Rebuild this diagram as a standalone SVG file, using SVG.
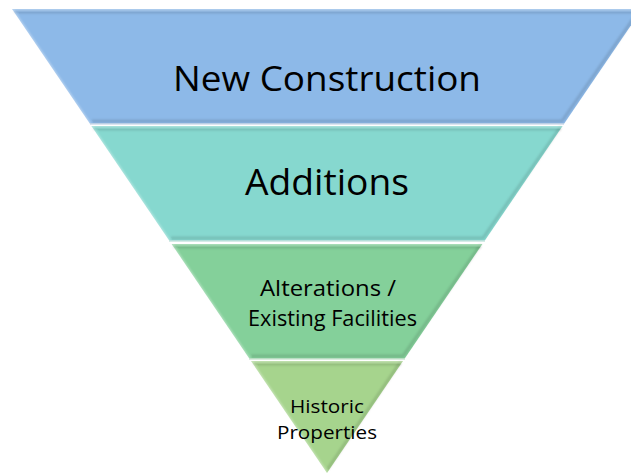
<svg xmlns="http://www.w3.org/2000/svg" width="631" height="474" viewBox="0 0 631 474">
<style>
.t{font-family:"Open Sans","Liberation Sans",sans-serif;fill:#000;text-anchor:middle}
.hl{fill:none;stroke:#ffffff;stroke-opacity:0.45;stroke-width:2}
.sh{fill:none;stroke:#000000;stroke-opacity:0.12;stroke-width:3}
</style>
<defs>
<filter id="soft" x="-5%" y="-5%" width="110%" height="110%"><feGaussianBlur stdDeviation="0.8"/></filter>
</defs>
<rect width="631" height="474" fill="#ffffff"/>
<g id="band1">
<polygon points="12,9 642,9 563.9,124 90.1,124" fill="#8DB9E8"/>
<g filter="url(#soft)">
<polyline class="sh" points="14,12 640,12"/>
<polyline class="sh" points="92,121 562,121 640,9"/>
<polyline class="hl" points="90.1,124 12,9 642,9"/>
</g>
<line x1="90" y1="124" x2="564" y2="124" stroke="#C9D6E6" stroke-width="1.5"/>
<text class="t" x="327" y="91" font-size="35" textLength="308" lengthAdjust="spacingAndGlyphs">New Construction</text>
</g>
<g id="band2">
<polygon points="91.4,126 562.6,126 484.5,241 169.5,241" fill="#86D8CF"/>
<g filter="url(#soft)">
<polyline class="sh" points="93,129 561,129"/>
<polyline class="sh" points="171,238 483,238 561,126"/>
<polyline class="hl" points="169.5,241 91.4,126 562.6,126"/>
</g>
<line x1="169" y1="241" x2="485" y2="241" stroke="#C6E3DE" stroke-width="1.5"/>
<text class="t" x="327" y="195" font-size="36" textLength="164" lengthAdjust="spacingAndGlyphs">Additions</text>
</g>
<g id="band3">
<polygon points="171.6,244 482.4,244 404.4,359 249.6,359" fill="#84D09A"/>
<g filter="url(#soft)">
<polyline class="sh" points="173,247 481,247"/>
<polyline class="sh" points="251,356 403,356 481,244"/>
<polyline class="hl" points="249.6,359 171.6,244 482.4,244"/>
</g>
<line x1="249" y1="359" x2="405" y2="359" stroke="#C9E3CF" stroke-width="1.5"/>
<text class="t" x="328" y="296" font-size="21" textLength="136" lengthAdjust="spacingAndGlyphs">Alterations /</text>
<text class="t" x="332.5" y="326" font-size="21" textLength="169" lengthAdjust="spacingAndGlyphs">Existing Facilities</text>
</g>
<g id="band4">
<polygon points="251,361 403,361 327,473" fill="#A6D48D"/>
<g filter="url(#soft)">
<polyline class="sh" points="253,364 401,364"/>
<polyline class="sh" points="327,470 401,361"/>
<polyline class="hl" points="327,473 251,361 403,361"/>
</g>
<text class="t" x="327" y="413" font-size="19" textLength="74" lengthAdjust="spacingAndGlyphs">Historic</text>
<text class="t" x="327" y="439" font-size="19" textLength="100" lengthAdjust="spacingAndGlyphs">Properties</text>
</g>
<g id="connectors"/>
</svg>
